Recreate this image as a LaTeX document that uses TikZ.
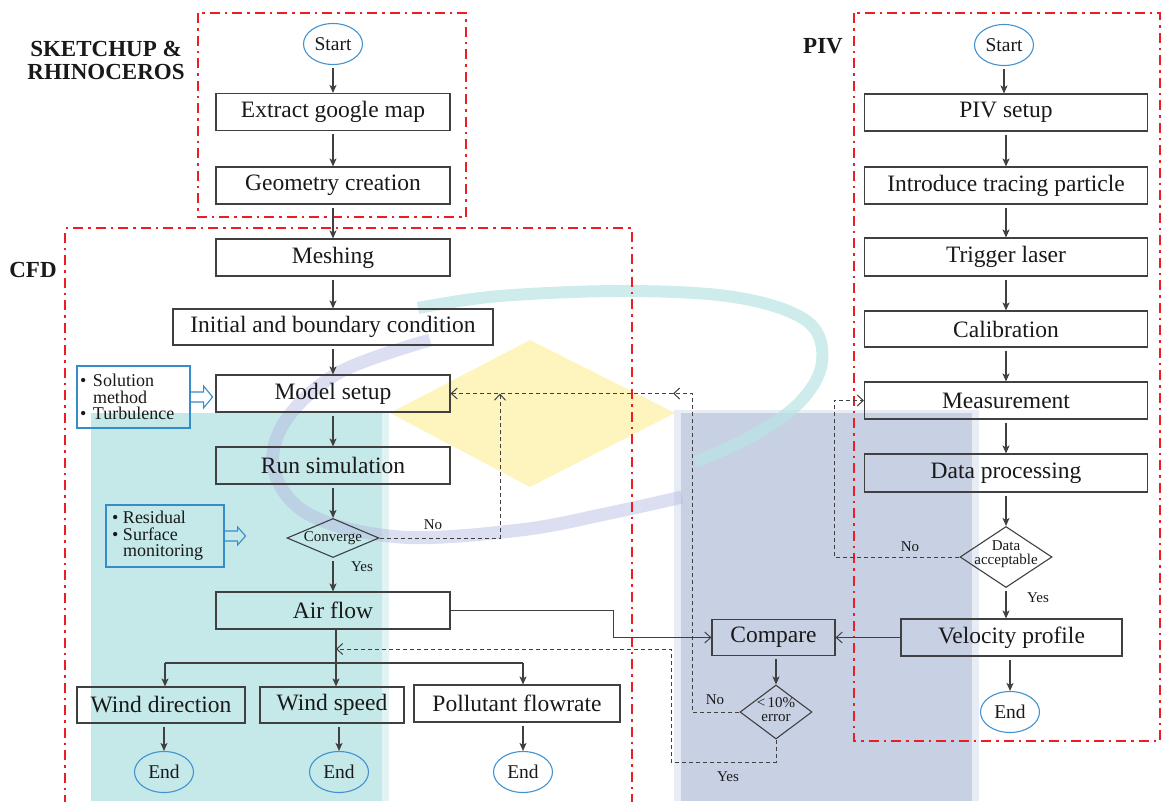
\documentclass[tikz,border=0pt]{standalone}
\usepackage{fontspec}
\setmainfont{Liberation Serif}
\usetikzlibrary{arrows.meta,shapes.geometric,calc}
\definecolor{framered}{RGB}{238,28,36}
\definecolor{termblue}{RGB}{66,146,208}
\definecolor{notebl}{RGB}{52,140,200}
\definecolor{tealbg}{RGB}{197,233,233}
\definecolor{teallt}{RGB}{226,243,243}
\definecolor{greybg}{RGB}{200,209,228}
\definecolor{greylt}{RGB}{232,236,244}
\definecolor{yellowbg}{RGB}{253,244,190}
\definecolor{arcteal}{RGB}{185,228,228}
\definecolor{arcpurple}{RGB}{178,184,224}
\definecolor{edge}{RGB}{64,64,64}
\definecolor{ink}{RGB}{25,25,25}
\begin{document}
\begin{tikzpicture}[x=1pt,y=-1pt,
  box/.style={draw=edge,line width=1.1pt,minimum height=37pt,inner sep=0pt,text=ink,font=\fontsize{23.5}{26}\selectfont},
  term/.style={ellipse,draw=termblue,line width=1.1pt,minimum width=59pt,minimum height=41pt,inner sep=0pt,text=ink,font=\fontsize{19.5}{22}\selectfont},
  dec/.style={diamond,draw=edge,line width=1.1pt,inner sep=0pt},
  small/.style={text=ink,font=\fontsize{15}{14}\selectfont,align=center,inner sep=0pt},
  note/.style={draw=notebl,line width=1.1pt,inner ysep=0pt,minimum height=62pt,align=left,text=ink,font=\fontsize{18}{16.5}\selectfont},
  ttl/.style={text=ink,font=\bfseries\fontsize{23}{23}\selectfont,align=center,inner sep=0pt},
  arr/.style={draw=edge,line width=1.1pt,-{Stealth[length=8pt,width=7pt,inset=2pt]},shorten <=3pt},
  plainline/.style={draw=edge,line width=1.1pt},
  oarr/.style={draw=edge,line width=1pt,-{Straight Barb[length=6pt,width=11pt]}},
  darr/.style={draw=edge,line width=1pt,dash pattern=on 4pt off 3pt,-{Straight Barb[length=6pt,width=11pt]}},
  frame/.style={draw=framered,line width=2pt,dash pattern=on 10pt off 5pt on 2.5pt off 5pt},
  blockarr/.style={draw=notebl,line width=1.1pt,line join=miter},
]
\useasboundingbox (0,0) rectangle (1162,801);
% ---------- background watermark ----------
\fill[teallt] (91,413) rectangle (389,801);
\fill[tealbg] (91,413) rectangle (382,801);
\fill[greylt] (674,410) rectangle (979,801);
\fill[greybg] (681,413) rectangle (972,801);
\fill[yellowbg] (390,413) -- (530,340) -- (675,413) -- (530,487) -- cycle;
\draw[arcteal,line width=12pt,opacity=0.7] plot[smooth,tension=0.6] coordinates {(418,308) (500,296) (631,291) (740,298) (808,322) (822,362) (800,402) (752,436) (695,462)};
\draw[arcpurple,line width=13pt,opacity=0.45] plot[smooth,tension=0.6] coordinates {(430,340) (340,372) (286,420) (274,470) (310,515) (400,537) (520,530) (610,513) (682,497)};
% ---------- frames ----------
\draw[frame] (198,13) rectangle (466,217);
\draw[frame] (65,805) -- (65,228) -- (632,228) -- (632,805);
\draw[frame] (854,13) rectangle (1160,741);
% ---------- titles ----------
\node[ttl] (tsk) at (106,60) {SKETCHUP \&\\RHINOCEROS};
\node[ttl] (tcfd) at (33,270) {CFD};
\node[ttl] (tpiv) at (823,46) {PIV};
% ---------- left column ----------
\node[term] (s1) at (333,44) {Start};
\node[box,minimum width=234pt] (ext) at (333,112) {Extract google map};
\node[box,minimum width=234pt] (geo) at (333,185.5) {Geometry creation};
\node[box,minimum width=234pt] (mesh) at (333,257.5) {Meshing};
\node[box,minimum width=320pt,minimum height=36pt] (init) at (333,327) {Initial and boundary condition};
\node[box,minimum width=234pt] (model) at (333,393.5) {Model setup};
\node[box,minimum width=234pt] (run) at (333,465.5) {Run simulation};
\node[dec,aspect=2.36,minimum width=92pt,minimum height=39pt,small] (conv) at (333,538) {Converge};
\node[box,minimum width=234pt] (air) at (333,610.5) {Air flow};
\node[box,minimum width=168pt,minimum height=36pt] (wd) at (161,705) {Wind direction};
\node[box,minimum width=144pt,minimum height=36pt] (ws) at (332,705) {Wind speed};
\node[box,minimum width=206pt,minimum height=37pt] (pf) at (517,703.5) {Pollutant flowrate};
\node[term] (e1) at (164,772) {End};
\node[term] (e2) at (339,772) {End};
\node[term] (e3) at (523,772) {End};
\node[note,inner xsep=3pt,text width=107pt] (n1) at (133.5,397) {\makebox[13pt][l]{\textbullet}Solution\\\hspace*{13pt}method\\\makebox[13pt][l]{\textbullet}Turbulence};
\node[note,inner xsep=6pt,text width=106pt] (n2) at (165,536) {\makebox[11pt][l]{\textbullet}Residual\\\makebox[11pt][l]{\textbullet}Surface\\\hspace*{11pt}monitoring};
\draw[blockarr] ($(n1.east)+(0,-5)$) -- ++(13,0) -- ++(0,-6) -- ++(9,11) -- ++(-9,11) -- ++(0,-6) -- ++(-13,0);
\draw[blockarr] ($(n2.east)+(0,-5)$) -- ++(13,0) -- ++(0,-4) -- ++(8,9) -- ++(-8,9) -- ++(0,-4) -- ++(-13,0);
% ---------- compare ----------
\node[box,minimum width=123pt,minimum height=36pt] (cmp) at (773.5,637.5) {Compare};
\node[dec,minimum width=72pt,minimum height=54pt] (err) at (776,712) {};
\node[small] (errt) at (776,710) {<\,10\%\\error};
% ---------- PIV column ----------
\node[term] (s2) at (1004,45) {Start};
\node[box,minimum width=283pt] (pivs) at (1006,112.5) {PIV setup};
\node[box,minimum width=283pt] (intro) at (1006,185.5) {Introduce tracing particle};
\node[box,minimum width=283pt,minimum height=38pt] (trig) at (1006,257) {Trigger laser};
\node[box,minimum width=283pt,minimum height=36pt] (cal) at (1006,329) {Calibration};
\node[box,minimum width=283pt] (meas) at (1006,400.5) {Measurement};
\node[box,minimum width=283pt,minimum height=38pt] (dp) at (1006,473) {Data processing};
\node[dec,minimum width=92pt,minimum height=61pt] (dacc) at (1006,557) {};
\node[small] (dacct) at (1006,554) {Data\\acceptable};
\node[box,minimum width=221pt] (vel) at (1011.5,637.5) {Velocity profile};
\node[term] (e4) at (1010,712) {End};
% ---------- labels ----------
\node[small] (lyes1) at (362,567) {Yes};
\node[small] (lno1) at (433,525) {No};
\node[small] (lno2) at (715,700) {No};
\node[small] (lyes2) at (728,777) {Yes};
\node[small] (lno3) at (910,547) {No};
\node[small] (lyes3) at (1038,598) {Yes};
% ---------- connectors left ----------
\draw[arr] (s1) -- (ext);
\draw[arr] (ext) -- (geo);
\draw[arr] (geo) -- (mesh);
\draw[arr] (mesh) -- (init);
\draw[arr] (init) -- (model);
\draw[arr] (model) -- (run);
\draw[arr] (run) -- (conv);
\draw[arr] (conv) -- (air);
\coordinate (cA) at (500,538);
\coordinate (cB) at (500,393.5);
\draw[darr] (conv.east) -- (cA) -- (cB);
\coordinate (b0) at (336,663);
\coordinate (bL) at (165,663);
\coordinate (bR) at (523,663);
\draw[plainline] (air.south -| b0) -- (b0);
\draw[plainline] (bL) -- (bR);
\draw[arr,shorten <=0pt] (bL) -- (bL |- wd.north);
\draw[arr,shorten <=0pt] (b0) -- (b0 |- ws.north);
\draw[arr,shorten <=0pt] (bR) -- (bR |- pf.north);
\draw[arr] (e1.north |- wd.south) -- (e1.north);
\draw[arr] (e2.north |- ws.south) -- (e2.north);
\draw[arr] (e3.north |- pf.south) -- (e3.north);
% ---------- compare connectors ----------
\coordinate (a1) at (613,610.5);
\draw[oarr] (air.east) -- (a1) |- (cmp.west);
\draw[oarr] (vel.west) -- (cmp.east);
\draw[arr] (err.north |- cmp.south) -- (err.north);
\coordinate (k1) at (692,393.5);
\coordinate (k2) at (673,393.5);
\draw[darr] (err.west) -| (k1) -- (k2);
\draw[darr] (k2) -- (model.east);
\coordinate (y1) at (671,762);
\coordinate (y2) at (671,649);
\coordinate (y3) at (336,649);
\draw[darr] (err.south) |- (y1) -- (y2) -- (y3);
% ---------- PIV connectors ----------
\draw[arr] (s2) -- (s2 |- pivs.north);
\draw[arr] (pivs) -- (intro);
\draw[arr] (intro) -- (trig);
\draw[arr] (trig) -- (cal);
\draw[arr] (cal) -- (meas);
\draw[arr] (meas) -- (dp);
\draw[arr] (dp) -- (dacc);
\draw[arr] (dacc.south) -- (dacc.south |- vel.north);
\draw[arr] (e4.north |- vel.south) -- (e4.north);
\coordinate (p1) at (834,557);
\draw[darr] (dacc.west) -- (p1) |- (meas.west);
\end{tikzpicture}
\end{document}
